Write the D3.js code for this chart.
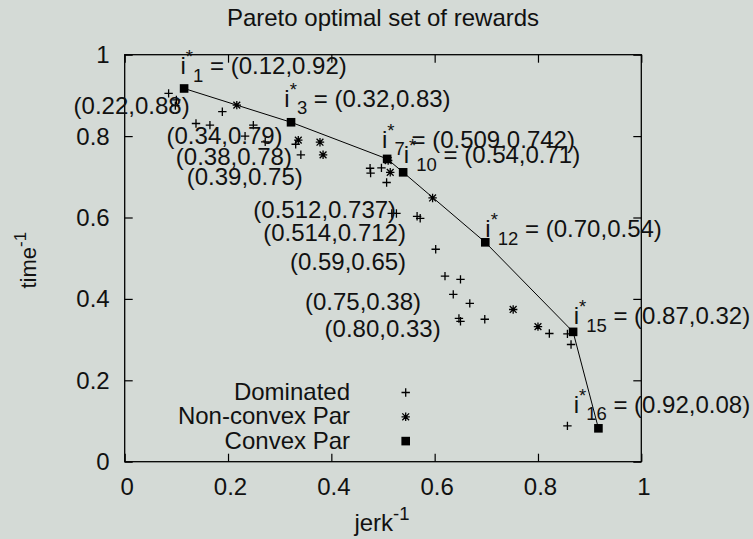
<!DOCTYPE html>
<html>
<head>
<meta charset="utf-8">
<script src="https://cdn.jsdelivr.net/npm/d3@7"></script>
<style>
  html, body { margin: 0; padding: 0; background: #d4dad6; }
  svg { display: block; }
  text { font-family: "Liberation Sans", Arial, Helvetica, sans-serif; fill: #111; }
</style>
</head>
<body>
<svg id="chart" width="753" height="539"></svg>
<script>
// ---------------- data ----------------
const title = "Pareto optimal set of rewards";
const xTicks = [0, 0.2, 0.4, 0.6, 0.8, 1];
const yTicks = [0, 0.2, 0.4, 0.6, 0.8, 1];
const legendNames = ["Dominated", "Non-convex Par", "Convex Par"];

// Dominated rewards (jerk^-1, time^-1)
const dominated = [
  [0.085, 0.905], [0.098, 0.875], [0.100, 0.889], [0.189, 0.860], [0.138, 0.831],
  [0.165, 0.827], [0.249, 0.827], [0.233, 0.800], [0.272, 0.786], [0.331, 0.780],
  [0.341, 0.754], [0.475, 0.721], [0.476, 0.709], [0.497, 0.722], [0.507, 0.686],
  [0.517, 0.610], [0.526, 0.610], [0.566, 0.603], [0.572, 0.598], [0.602, 0.522],
  [0.620, 0.456], [0.650, 0.448], [0.636, 0.411], [0.668, 0.389], [0.647, 0.352],
  [0.650, 0.345], [0.697, 0.350], [0.822, 0.315], [0.857, 0.314], [0.864, 0.288],
  [0.857, 0.088]
];
// Non-convex Pareto rewards
const nonConvex = [
  [0.217, 0.876], [0.336, 0.790], [0.378, 0.785], [0.384, 0.754], [0.510, 0.740],
  [0.514, 0.711], [0.596, 0.648], [0.752, 0.374], [0.800, 0.332]
];
// Convex Pareto rewards (connected by line)
const convex = [
  [0.115, 0.917], [0.322, 0.834], [0.508, 0.744], [0.539, 0.711],
  [0.698, 0.539], [0.868, 0.319], [0.917, 0.082]
];
// Starred labels: index, value text, anchor (data coords)
const starLabels = [
  { sub: "1",  text: " = (0.12,0.92)",   at: [0.108, 0.952] },
  { sub: "3",  text: " = (0.32,0.83)",   at: [0.309, 0.872] },
  { sub: "7",  text: " = (0.509,0.742)", at: [0.498, 0.771] },
  { sub: "10", text: " = (0.54,0.71)",   at: [0.540, 0.733] },
  { sub: "12", text: " = (0.70,0.54)",   at: [0.698, 0.551] },
  { sub: "15", text: " = (0.87,0.32)",   at: [0.869, 0.338] },
  { sub: "16", text: " = (0.92,0.08)",   at: [0.869, 0.120] }
];
// Plain labels of non-convex points
const plainLabels = [
  { text: "(0.22,0.88)",   at: [-0.099, 0.854] },
  { text: "(0.34,0.79)",   at: [0.081, 0.781] },
  { text: "(0.38,0.78)",   at: [0.099, 0.729] },
  { text: "(0.39,0.75)",   at: [0.120, 0.680] },
  { text: "(0.512,0.737)", at: [0.249, 0.600] },
  { text: "(0.514,0.712)", at: [0.268, 0.543] },
  { text: "(0.59,0.65)",   at: [0.320, 0.471] },
  { text: "(0.75,0.38)",   at: [0.349, 0.373] },
  { text: "(0.80,0.33)",   at: [0.387, 0.306] }
];

// ---------------- layout ----------------
const FS = 24, FS2 = 18.5;
const L = 124.7, R = 641.3, T = 54.7, B = 461.7;
const svg = d3.select("#chart");
const x = d3.scaleLinear().domain([0, 1]).range([L, R]);
const y = d3.scaleLinear().domain([0, 1]).range([B, T]);
const fmt = d => d === 0 || d === 1 ? String(d) : d.toFixed(1);

// axes (ticks inward, mirrored)
function styleAxis(g) {
  g.select(".domain").remove();
  g.attr("font-family", null);
  g.selectAll(".tick line").attr("stroke", "#000").attr("stroke-width", 1.2);
}
const gx = svg.append("g").attr("transform", `translate(0,${B})`)
  .call(d3.axisBottom(x).tickValues(xTicks).tickSizeInner(-8).tickSizeOuter(0).tickFormat(fmt));
styleAxis(gx);
gx.selectAll(".tick text").attr("y", 33.3).attr("dy", null).attr("dx", 2)
  .attr("font-size", FS).attr("fill", "#111");
const gx2 = svg.append("g").attr("transform", `translate(0,${T})`)
  .call(d3.axisTop(x).tickValues(xTicks).tickSizeInner(-8).tickSizeOuter(0).tickFormat(""));
styleAxis(gx2);
const gy = svg.append("g").attr("transform", `translate(${L},0)`)
  .call(d3.axisLeft(y).tickValues(yTicks).tickSizeInner(-8).tickSizeOuter(0).tickFormat(fmt));
styleAxis(gy);
gy.selectAll(".tick text").attr("x", -15).attr("dy", null).attr("y", 8)
  .attr("font-size", FS).attr("fill", "#111");
const gy2 = svg.append("g").attr("transform", `translate(${R},0)`)
  .call(d3.axisRight(y).tickValues(yTicks).tickSizeInner(-8).tickSizeOuter(0).tickFormat(""));
styleAxis(gy2);

// frame
svg.append("rect").attr("x", L).attr("y", T).attr("width", R - L).attr("height", B - T)
  .attr("fill", "none").attr("stroke", "#000").attr("stroke-width", 1.3);

// title & axis labels
svg.append("text").attr("x", (L + R) / 2).attr("y", 26).attr("text-anchor", "middle")
  .attr("font-size", FS).text(title);
const xl = svg.append("text").attr("x", 382).attr("y", 531).attr("text-anchor", "middle").attr("font-size", FS);
xl.append("tspan").text("jerk");
xl.append("tspan").attr("font-size", FS2).attr("dy", -11).text("-1");
const yl = svg.append("text").attr("transform", `translate(36,${(T + B) / 2 + 2}) rotate(-90)`)
  .attr("text-anchor", "middle").attr("font-size", 22);
yl.append("tspan").text("time");
yl.append("tspan").attr("font-size", 17).attr("dy", -10).text("-1");

// line through convex points
svg.append("path").datum(convex)
  .attr("d", d3.line().x(d => x(d[0])).y(d => y(d[1])))
  .attr("fill", "none").attr("stroke", "#000").attr("stroke-width", 1);

// markers
const H = 4.2;
function plus(g, cx, cy) {
  g.append("path").attr("d", `M${cx - H},${cy}H${cx + H}M${cx},${cy - H}V${cy + H}`)
    .attr("stroke", "#000").attr("stroke-width", 1.3).attr("fill", "none");
}
function star(g, cx, cy) {
  const h = 3.4;
  g.append("path").attr("d",
    `M${cx - H},${cy}H${cx + H}M${cx},${cy - H}V${cy + H}` +
    `M${cx - h},${cy - h}L${cx + h},${cy + h}M${cx - h},${cy + h}L${cx + h},${cy - h}`)
    .attr("stroke", "#000").attr("stroke-width", 1.3).attr("fill", "none");
}
function square(g, cx, cy) {
  g.append("rect").attr("x", cx - 4.3).attr("y", cy - 4.3).attr("width", 8.6).attr("height", 8.6)
    .attr("fill", "#000");
}
const gm = svg.append("g");
dominated.forEach(d => plus(gm, x(d[0]), y(d[1])));
nonConvex.forEach(d => star(gm, x(d[0]), y(d[1])));
convex.forEach(d => square(gm, x(d[0]), y(d[1])));

// labels
plainLabels.forEach(l => {
  svg.append("text").attr("x", x(l.at[0])).attr("y", y(l.at[1])).attr("font-size", FS).text(l.text);
});
starLabels.forEach(l => {
  const t = svg.append("text").attr("x", x(l.at[0])).attr("y", y(l.at[1])).attr("font-size", FS);
  t.append("tspan").text("i");
  t.append("tspan").attr("font-size", FS2).attr("dy", -11).text("*");
  t.append("tspan").attr("font-size", FS2).attr("dy", 18.4).text(l.sub);
  t.append("tspan").attr("dy", -7.4).text(l.text);
});

// legend
const legX = 350, legMX = 405.7, legY0 = 400, legDY = 24.3;
const markers = [plus, star, square];
legendNames.forEach((name, i) => {
  const by = legY0 + i * legDY;
  svg.append("text").attr("x", legX).attr("y", by).attr("text-anchor", "end")
    .attr("font-size", FS).text(name);
  markers[i](svg, legMX, by - 7.5);
});
</script>
</body>
</html>
